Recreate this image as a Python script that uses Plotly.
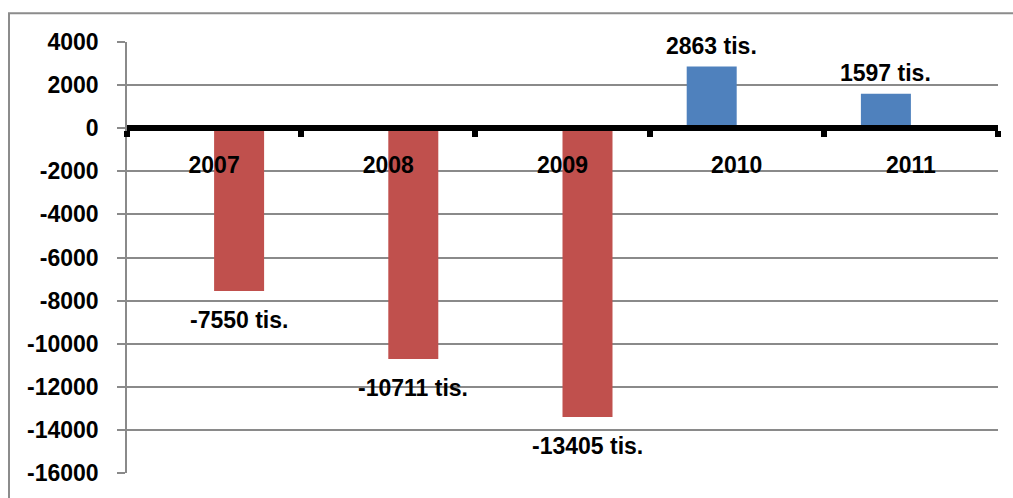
import plotly.graph_objects as go

years = ["2007", "2008", "2009", "2010", "2011"]
positive_vals = [None, None, None, 2863, 1597]
negative_vals = [-7550, -10711, -13405, None, None]
ytick_vals = [4000, 2000, 0, -2000, -4000, -6000, -8000, -10000, -12000, -14000, -16000]
ytick_text = ["4000", "2000", "0", "-2000", "-4000", "-6000", "-8000", "-10000", "-12000", "-14000", "-16000"]

BLUE = "#4F81BD"
RED = "#C0504D"
GRID = "#8a8a8a"
FONT = "Liberation Sans, Arial, sans-serif"

fig = go.Figure()
fig.add_trace(go.Bar(x=years, y=positive_vals, marker=dict(color=BLUE, line=dict(width=0)), showlegend=False))
fig.add_trace(go.Bar(x=years, y=negative_vals, marker=dict(color=RED, line=dict(width=0)), showlegend=False))

annotations = []
for i, v in enumerate(positive_vals):
    if v is not None:
        annotations.append(dict(x=i, y=v, text=f"{v} tis.", showarrow=False, xshift=-25,
                                yanchor="bottom", yshift=6,
                                font=dict(family=FONT, size=23, color="black", weight="bold")))
for i, v in enumerate(negative_vals):
    if v is not None:
        annotations.append(dict(x=i, y=v, text=f"{v} tis.", showarrow=False, xshift=25,
                                yanchor="top", yshift=-14,
                                font=dict(family=FONT, size=23, color="black", weight="bold")))

fig.update_layout(
    width=1013, height=498,
    margin=dict(l=127, r=15, t=42, b=21),
    paper_bgcolor="white", plot_bgcolor="white",
    barmode="group", bargap=0.426, bargroupgap=0,
    annotations=annotations,
    shapes=[dict(type="rect", xref="paper", yref="paper",
                 x0=(9 - 127) / 871, x1=1.05, y0=-0.1, y1=1 + 29 / 435,
                 line=dict(color="#8c8c8c", width=2), fillcolor="rgba(0,0,0,0)", layer="below")],
    xaxis=dict(
        type="category", categoryorder="array", categoryarray=years,
        range=[-0.5, len(years) - 0.5], autorange=False,
        anchor="free", position=0.8, domain=[0, 1],
        showline=True, linecolor="black", linewidth=6,
        ticks="outside", tickson="boundaries", ticklen=6, tickwidth=6, tickcolor="black",
        ticklabelstandoff=14, tickangle=0,
        tickfont=dict(family=FONT, size=23, color="black", weight="bold"),
        showgrid=False, zeroline=False,
    ),
    yaxis=dict(
        range=[-16000, 4000], autorange=False, tickvals=ytick_vals, ticktext=ytick_text,
        showgrid=True, gridcolor=GRID, gridwidth=1.5,
        showline=True, linecolor=GRID, linewidth=1.5,
        ticks="outside", ticklen=8, tickcolor=GRID, tickwidth=1.5,
        ticklabelstandoff=14,
        zeroline=False,
        tickfont=dict(family=FONT, size=23, color="black", weight="bold"),
    ),
)

fig.write_html("out.html")
